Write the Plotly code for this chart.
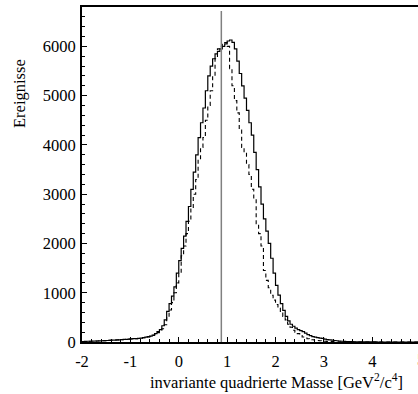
import numpy as np
import plotly.graph_objects as go

# ---- data -------------------------------------------------------------
bin_start = -2.0
bin_width = 0.05

solid_counts = [
    10, 12, 15, 15, 18, 20, 20, 22, 25, 28,
    30, 35, 40, 40, 45, 45, 50, 55, 55, 60,
    65, 70, 70, 75, 80, 90, 100, 110, 120, 140,
    170, 210, 250, 330, 450, 620, 780, 930, 1120, 1400,
    1650, 1900, 2150, 2450, 2750, 3100, 3450, 3800, 4150, 4450,
    4750, 5100, 5400, 5600, 5750, 5850, 5900, 5950, 6000, 6050,
    6110, 6130, 6080, 5950, 5700, 5450, 5200, 4950, 4700, 4450,
    4200, 3850, 3500, 3150, 2800, 2500, 2250, 2000, 1700, 1400,
    1150, 950, 780, 640, 520, 430, 360, 320, 280, 250,
    230, 210, 180, 150, 130, 110, 100, 90, 80, 75,
    60, 50, 45, 40, 30, 25, 20, 15, 12, 10,
    8, 6, 5, 4, 3, 3, 2, 2, 1, 1,
    1, 1, 0, 0, 0, 0, 0, 0, 0, 0,
    0, 0, 0, 0, 0, 0, 0, 0, 0, 0,
]

dashed_counts = [
    8, 10, 12, 14, 16, 18, 20, 22, 24, 26,
    28, 32, 36, 38, 42, 44, 48, 52, 54, 58,
    62, 66, 68, 72, 76, 85, 95, 105, 115, 135,
    160, 190, 230, 270, 350, 500, 650, 800, 1000, 1200,
    1400, 1750, 1950, 2200, 2450, 2700, 3000, 3300, 3700, 3950,
    4150, 4500, 4800, 5100, 5400, 5750, 5950, 6000, 6050, 6080,
    6000, 5550, 5200, 4900, 4650, 4300, 3950, 3850, 3600, 3400,
    3100, 2900, 2400, 2200, 1950, 1450, 1250, 1100, 950, 850,
    760, 690, 600, 520, 450, 360, 300, 240, 200, 170,
    130, 100, 80, 65, 55, 45, 35, 30, 25, 20,
    15, 12, 10, 8, 6, 5, 4, 3, 2, 2,
    1, 1, 1, 0, 0, 0, 0, 0, 0, 0,
    0, 0, 0, 0, 0, 0, 0, 0, 0, 0,
    0, 0, 0, 0, 0, 0, 0, 0, 0, 0,
]

cut_value = 0.88
cut_top = 6720

x_tick_vals = [-2, -1, 0, 1, 2, 3, 4, 5]
x_tick_text = ["-2", "-1", "0", "1", "2", "3", "4", "5"]
y_tick_vals = [0, 1000, 2000, 3000, 4000, 5000, 6000]
y_tick_text = ["0", "1000", "2000", "3000", "4000", "5000", "6000"]

x_title = "invariante quadrierte Masse [GeV<sup>2</sup>/c<sup>4</sup>]"
y_title = "Ereignisse"

# ---- figure -----------------------------------------------------------
FONT = "Liberation Serif, Times New Roman, serif"
FS = 16.5
W, H = 418, 394
ML, MT, MB, MR = 82, 7, 52, 0
XR = [-2, 4.945]
YR = [0, 6800]


def step_xy(counts):
    n = len(counts)
    edges = bin_start + bin_width * np.arange(n + 1)
    ys = list(counts) + [counts[-1]]
    return edges, ys


fig = go.Figure()

xs, ys = step_xy(dashed_counts)
fig.add_trace(go.Scatter(x=xs, y=ys, mode="lines", line_shape="hv",
                         line=dict(color="black", width=1.1, dash="4px,3px"),
                         hoverinfo="skip", showlegend=False))
xs, ys = step_xy(solid_counts)
fig.add_trace(go.Scatter(x=xs, y=ys, mode="lines", line_shape="hv",
                         line=dict(color="black", width=1.2),
                         hoverinfo="skip", showlegend=False))

fig.add_trace(go.Scatter(x=[cut_value, cut_value], y=[0, cut_top], mode="lines",
                         line=dict(color="#808080", width=1.5),
                         hoverinfo="skip", showlegend=False))

fig.update_layout(
    width=W, height=H,
    margin=dict(l=ML, r=MR, t=MT, b=MB, pad=0),
    paper_bgcolor="white", plot_bgcolor="white",
    font=dict(family=FONT, size=FS, color="black"),
    showlegend=False,
)

fig.update_xaxes(
    range=XR, showgrid=False, zeroline=False,
    showline=True, linecolor="black", linewidth=2, mirror=True,
    ticks="inside", ticklen=5, tickwidth=1, tickcolor="black",
    tickvals=x_tick_vals, ticktext=x_tick_text,
    tickfont=dict(family=FONT, size=FS),
    ticklabelstandoff=3,
    minor=dict(ticks="inside", ticklen=3, tickwidth=1, tickcolor="black", dtick=0.2, showgrid=False),
)
fig.update_yaxes(
    range=YR, showgrid=False, zeroline=False,
    showline=True, linecolor="black", linewidth=2, mirror=False,
    ticks="inside", ticklen=5, tickwidth=1, tickcolor="black",
    tickvals=y_tick_vals, ticktext=y_tick_text,
    tickfont=dict(family=FONT, size=FS),
    ticklabelstandoff=1,
    minor=dict(ticks="inside", ticklen=3, tickwidth=1, tickcolor="black", dtick=200, showgrid=False),
)

plot_w = W - ML - MR
plot_h = H - MT - MB

# tick label "5" sits right at the clipped edge, as in the reference
fig.add_annotation(text=x_tick_text[-1], xref="paper", yref="paper",
                   x=(x_tick_vals[-1] - XR[0]) / (XR[1] - XR[0]), y=-(360 - (H - MB)) / plot_h,
                   xanchor="center", yanchor="middle", showarrow=False,
                   font=dict(family=FONT, size=FS))

fig.add_annotation(text=x_title, xref="paper", yref="paper",
                   x=(405 - ML) / plot_w, y=-(382 - (H - MB)) / plot_h,
                   xanchor="right", yanchor="middle", showarrow=False,
                   font=dict(family=FONT, size=FS))
fig.add_annotation(text=y_title, xref="paper", yref="paper",
                   x=(19 - ML) / plot_w, y=((H - MB) - 94) / plot_h,
                   xanchor="center", yanchor="middle", textangle=-90, showarrow=False,
                   font=dict(family=FONT, size=FS))

fig.write_html("out.html")
